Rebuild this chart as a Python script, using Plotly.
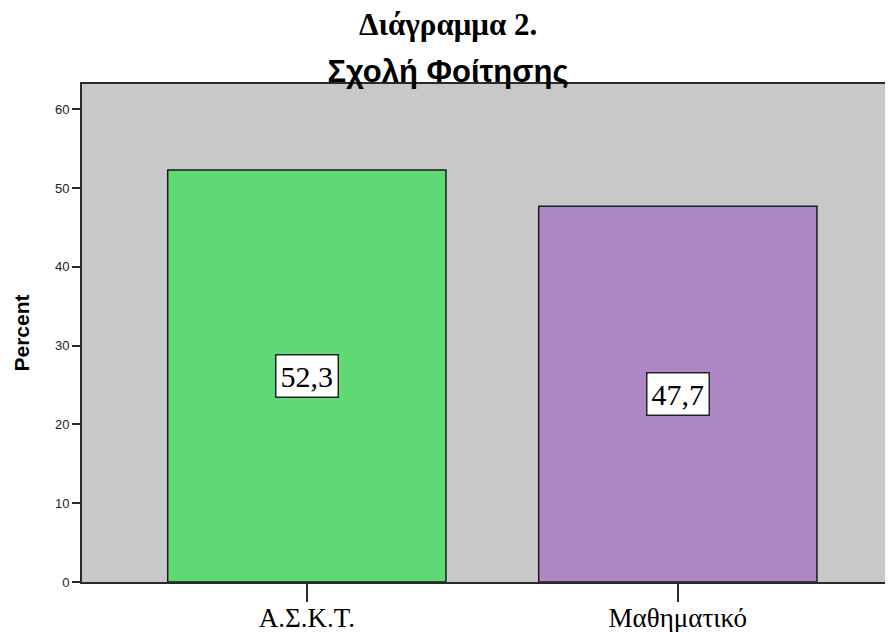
import plotly.graph_objects as go

categories = ["Α.Σ.Κ.Τ.", "Μαθηματικό"]
percent = [52.3, 47.7]
value_labels = ["52,3", "47,7"]
bar_colors = ["#5fd973", "#ae88c4"]
y_ticks = [0, 10, 20, 30, 40, 50, 60]

SERIF = "Liberation Serif, Times New Roman, serif"
SANS = "Liberation Sans, Arial, sans-serif"

# page body has an 8px margin, so the figure is drawn at (8, 8)
W, H = 885, 624
L, T, B = 74, 76, 50
PH = H - T - B

fig = go.Figure()
fig.add_trace(go.Bar(
    x=[0, 1], y=percent, width=0.75,
    marker=dict(color=bar_colors, line=dict(color="#1a1a1a", width=1.5)),
    hoverinfo="skip",
))

for i, (v, lab) in enumerate(zip(percent, value_labels)):
    fig.add_annotation(
        x=i, y=v / 2, text=lab, showarrow=False,
        font=dict(family=SERIF, size=30, color="black"),
        bgcolor="white", bordercolor="#222222", borderwidth=1.5, borderpad=4,
    )

fig.add_annotation(
    x=(440 - L) / (W - L), y=1 + (T - 16) / PH, xref="paper", yref="paper",
    xanchor="center", yanchor="middle",
    text="<b>Διάγραμμα 2.</b>", showarrow=False,
    font=dict(family=SERIF, size=31, color="black"),
)

fig.update_layout(
    width=W, height=H,
    margin=dict(l=L, r=0, t=T, b=B, autoexpand=False),
    paper_bgcolor="white",
    plot_bgcolor="#c8c8c8",
    showlegend=False,
    title=dict(
        text="<b>Σχολή Φοίτησης</b>", x=440 / W, xanchor="center",
        y=1 - 63 / H, yanchor="middle",
        font=dict(family=SANS, size=31, color="black"),
    ),
    xaxis=dict(
        range=[-0.606, 1.58], tickvals=[0, 1], ticktext=categories,
        showgrid=False, zeroline=False, automargin=False,
        showline=True, linecolor="#2a2a2a", linewidth=2, mirror=True,
        ticks="outside", ticklen=18, tickwidth=1.5, tickcolor="#2a2a2a",
        ticklabelstandoff=-7,
        tickfont=dict(family=SERIF, size=27, color="black"),
    ),
    yaxis=dict(
        range=[0, 63.2], tickvals=y_ticks,
        showgrid=False, zeroline=False, automargin=False,
        showline=True, linecolor="#2a2a2a", linewidth=2,
        ticks="outside", ticklen=8, tickwidth=1.5, tickcolor="#2a2a2a",
        tickfont=dict(family=SANS, size=13, color="#222222"),
        title=dict(text="<b>Percent</b>", standoff=20,
                   font=dict(family=SANS, size=21, color="black")),
    ),
)

fig.write_html("out.html")
